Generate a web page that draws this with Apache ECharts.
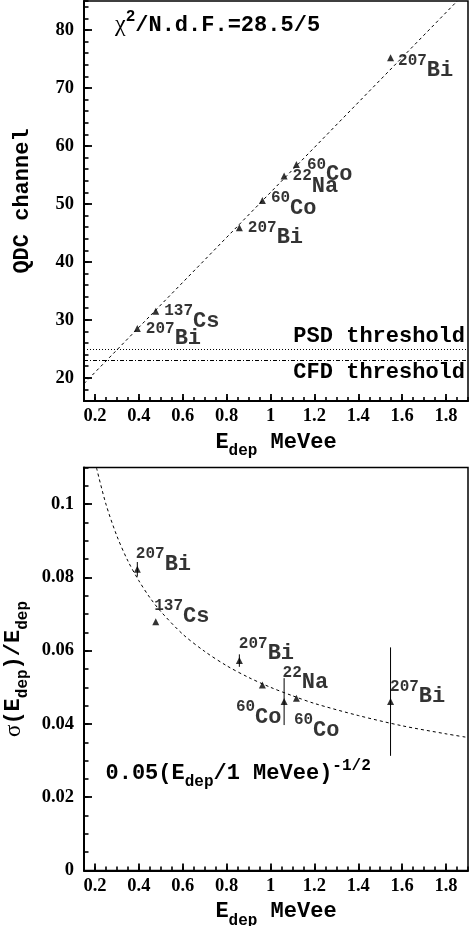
<!DOCTYPE html>
<html>
<head>
<meta charset="utf-8">
<script src="https://cdn.jsdelivr.net/npm/echarts@6/dist/echarts.min.js"></script>
<style>
  html, body { margin: 0; padding: 0; background: #fff; }
  #chart { width: 473px; height: 926px; }
</style>
</head>
<body>
<div id="chart"></div>
<script>
/* ===== data ===== */
const massNumbers = ['207', '137', '207', '60', '22', '60', '207'];
const elements    = ['Bi', 'Cs', 'Bi', 'Co', 'Na', 'Co', 'Bi'];
const eDep        = [0.393, 0.477, 0.858, 0.963, 1.062, 1.118, 1.547];
const qdcChannel  = [28.5, 31.5, 45.9, 50.6, 54.8, 56.8, 75.2];
const resolution    = [0.0822, 0.0679, 0.0573, 0.0506, 0.0461, 0.0470, 0.0461];
const resolutionErr = [0.002, 0, 0.0017, 0, 0.0064, 0, 0.0148];

// straight-line fit, where it enters / leaves the frame
const fitLineE   = [0.15, 1.851];
const fitLineQdc = [19.0, 85.0];

// 0.05 (E/1 MeVee)^-1/2 curve
const fitCurveE   = [0.207, 0.25, 0.3, 0.35, 0.4, 0.45, 0.5, 0.6, 0.7, 0.8, 0.9, 1.0, 1.1, 1.2, 1.4, 1.6, 1.8, 1.9];
const fitCurveRes = [0.1099, 0.1000, 0.0913, 0.0845, 0.0791, 0.0745, 0.0707, 0.0645, 0.0598, 0.0559, 0.0527, 0.0500, 0.0477, 0.0456, 0.0423, 0.0395, 0.0373, 0.0363];

const psdThreshold = 25;
const cfdThreshold = 23;

/* ===== styles ===== */
const MONO  = "'Liberation Mono', 'DejaVu Sans Mono', monospace";
const SERIF = "'Liberation Serif', 'DejaVu Serif', serif";

const richMono = {
  m:   { fontFamily: MONO, fontWeight: 'bold', fontSize: 22, color: '#000', verticalAlign: 'top' },
  sub: { fontFamily: MONO, fontWeight: 'bold', fontSize: 16, color: '#000', verticalAlign: 'top', padding: [12, 0, 0, 0] },
  g:   { fontFamily: SERIF, fontSize: 23, color: '#000', verticalAlign: 'top' }
};
const isoRich = {
  s: { fontFamily: MONO, fontWeight: 'bold', fontSize: 16, color: '#000', verticalAlign: 'top' },
  e: { fontFamily: MONO, fontWeight: 'bold', fontSize: 22, color: '#000', verticalAlign: 'top', padding: [7, 0, 0, 0] }
};

// label offsets (px) relative to each marker
const topOffsets = [[8.5, -8], [8.5, -8], [8.5, -8], [8.5, -10], [8.5, -8], [10.5, -8], [7.5, -5]];
const botOffsets = [[-1.5, -23.3], [-1.5, -23.7], [-0.5, -24.7], [-26.5, 14], [-1.5, -36.7], [-2.5, 13.7], [-0.5, -22.7]];

function isoLabel(i) {
  return '{s|' + massNumbers[i] + '}{e|' + elements[i] + '}';
}

const tickLabel = { fontFamily: SERIF, fontWeight: 'bold', fontSize: 18.5, color: '#000' };

// minor-tick axis (all ticks, no labels) + major-tick axis (labels) on each side
function minorAxis(grid, pos, min, max, interval, len) {
  return {
    type: 'value', gridIndex: grid, position: pos, min, max, interval,
    axisLine: { show: false, onZero: false },
    axisTick: { show: true, inside: true, length: len, lineStyle: { color: '#000', width: 1.6 } },
    axisLabel: { show: false },
    splitLine: { show: false }
  };
}
function majorAxis(grid, pos, min, max, extra) {
  return Object.assign({
    type: 'value', gridIndex: grid, position: pos, min, max,
    axisLine: { show: true, onZero: false, lineStyle: { color: '#000', width: 2 } },
    axisTick: { show: true, inside: true, length: 8, lineStyle: { color: '#000', width: 1.8 } },
    axisLabel: Object.assign({ showMinLabel: false, showMaxLabel: false }, tickLabel),
    splitLine: { show: false },
    nameLocation: 'middle'
  }, extra);
}

const xNameTop = '{m|E}{sub|dep}{m| MeVee}';
const xMajorExtra = () => ({
  splitNumber: 8,
  axisTick: { show: true, inside: true, length: 7, lineStyle: { color: '#000', width: 1.8 } },
  axisLabel: Object.assign({ showMinLabel: false, showMaxLabel: false, margin: 6 }, tickLabel),
  name: xNameTop, nameGap: 30, nameTextStyle: { rich: richMono }
});

const option = {
  animation: false,
  backgroundColor: '#fff',
  grid: [
    { left: 84, top: 1, width: 384, height: 400, outerBoundsMode: 'none', containLabel: false,
      show: true, borderColor: '#000', borderWidth: 1.5, backgroundColor: 'transparent' },
    { left: 84, top: 467.5, width: 384, height: 403, outerBoundsMode: 'none', containLabel: false,
      show: true, borderColor: '#000', borderWidth: 1.5, backgroundColor: 'transparent' }
  ],
  xAxis: [
    minorAxis(0, 'bottom', 0.15, 1.9, 0.05, 4),
    majorAxis(0, 'bottom', 0.15, 1.9, xMajorExtra()),
    minorAxis(1, 'bottom', 0.15, 1.9, 0.05, 4),
    majorAxis(1, 'bottom', 0.15, 1.9, xMajorExtra())
  ],
  yAxis: [
    minorAxis(0, 'left', 16, 85, 2, 4.5),
    majorAxis(0, 'left', 16, 85, {
      splitNumber: 7,
      axisLabel: Object.assign({ showMinLabel: false, showMaxLabel: false, margin: 10 }, tickLabel),
      name: 'QDC channel', nameRotate: 90, nameGap: 51,
      nameTextStyle: { fontFamily: MONO, fontWeight: 'bold', fontSize: 22, color: '#000' }
    }),
    minorAxis(1, 'left', 0, 0.11, 0.005, 4.5),
    majorAxis(1, 'left', 0, 0.11, {
      interval: 0.02,
      axisLabel: Object.assign({ showMinLabel: true, showMaxLabel: false, margin: 10 }, tickLabel),
      name: '{g|σ}{m|(E}{sub|dep}{m|)/E}{sub|dep}', nameRotate: 90, nameGap: 45,
      nameTextStyle: { rich: richMono }
    })
  ],
  graphic: [
    {
      type: 'text', left: 115, top: 9, silent: true,
      style: {
        text: '{c|χ}{s|2}{m|/N.d.F.=28.5/5}',
        rich: {
          c: { fontFamily: SERIF, fontSize: 24, fill: '#000', verticalAlign: 'top', padding: [4, 0, 0, 0] },
          s: { fontFamily: MONO, fontWeight: 'bold', fontSize: 16, fill: '#000', verticalAlign: 'top' },
          m: { fontFamily: MONO, fontWeight: 'bold', fontSize: 22, fill: '#000', verticalAlign: 'top', padding: [5, 0, 0, 0] }
        }
      }
    },
    {
      type: 'text', left: 105.5, top: 758, silent: true,
      style: {
        text: '{m|0.05(E}{b|dep}{m|/1 MeVee)}{p|-1/2}',
        rich: {
          m: { fontFamily: MONO, fontWeight: 'bold', fontSize: 22, fill: '#000', verticalAlign: 'top', padding: [4, 0, 0, 0] },
          b: { fontFamily: MONO, fontWeight: 'bold', fontSize: 16, fill: '#000', verticalAlign: 'top', padding: [16, 0, 0, 0] },
          p: { fontFamily: MONO, fontWeight: 'bold', fontSize: 16, fill: '#000', verticalAlign: 'top' }
        }
      }
    }
  ],
  series: [
    // ---- top: QDC vs E ----
    {
      type: 'line', xAxisIndex: 0, yAxisIndex: 0,
      data: fitLineE.map((e, i) => [e, fitLineQdc[i]]),
      showSymbol: false, silent: true,
      lineStyle: { color: '#000', width: 1, type: [3, 3] },
      markLine: {
        silent: true, symbol: 'none', animation: false,
        data: [
          {
            yAxis: psdThreshold,
            lineStyle: { color: '#000', width: 1, type: [1, 2] },
            label: { show: true, formatter: 'PSD threshold', position: 'insideEndTop', distance: [3, 1],
                     fontFamily: MONO, fontWeight: 'bold', fontSize: 22, color: '#000' }
          },
          {
            yAxis: cfdThreshold,
            lineStyle: { color: '#000', width: 1, type: [4, 2, 1, 2] },
            label: { show: true, formatter: 'CFD threshold', position: 'insideEndBottom', distance: [3, 1],
                     fontFamily: MONO, fontWeight: 'bold', fontSize: 22, color: '#000' }
          }
        ]
      }
    },
    {
      type: 'scatter', xAxisIndex: 0, yAxisIndex: 0,
      symbol: 'triangle', symbolSize: [7, 7],
      itemStyle: { color: '#000' },
      data: eDep.map((e, i) => ({
        value: [e, qdcChannel[i]],
        label: { offset: topOffsets[i] }
      })),
      label: {
        show: true, position: 'inside', align: 'left', verticalAlign: 'top',
        formatter: p => isoLabel(p.dataIndex), rich: isoRich
      }
    },
    // ---- bottom: resolution vs E ----
    {
      type: 'line', xAxisIndex: 2, yAxisIndex: 2,
      data: fitCurveE.map((e, i) => [e, fitCurveRes[i]]),
      showSymbol: false, silent: true, smooth: 0.3,
      lineStyle: { color: '#000', width: 1, type: [3, 3] }
    },
    {
      type: 'custom', xAxisIndex: 2, yAxisIndex: 2, silent: true,
      data: eDep.map((e, i) => [e, resolution[i], resolutionErr[i]]),
      encode: { x: 0, y: 1 },
      renderItem: (params, api) => {
        const err = api.value(2);
        if (!err) return { type: 'group', children: [] };
        const hi = api.coord([api.value(0), api.value(1) + err]);
        const lo = api.coord([api.value(0), api.value(1) - err]);
        return {
          type: 'line',
          shape: { x1: hi[0], y1: hi[1], x2: lo[0], y2: lo[1] },
          style: { stroke: '#000', lineWidth: 1 }
        };
      }
    },
    {
      type: 'scatter', xAxisIndex: 2, yAxisIndex: 2,
      symbol: 'triangle', symbolSize: [7, 7],
      itemStyle: { color: '#000' },
      data: eDep.map((e, i) => ({
        value: [e, resolution[i]],
        label: { offset: botOffsets[i] }
      })),
      label: {
        show: true, position: 'inside', align: 'left', verticalAlign: 'top',
        formatter: p => isoLabel(p.dataIndex), rich: isoRich
      }
    }
  ]
};

const chart = echarts.init(document.getElementById('chart'));
chart.setOption(option);
</script>
</body>
</html>
